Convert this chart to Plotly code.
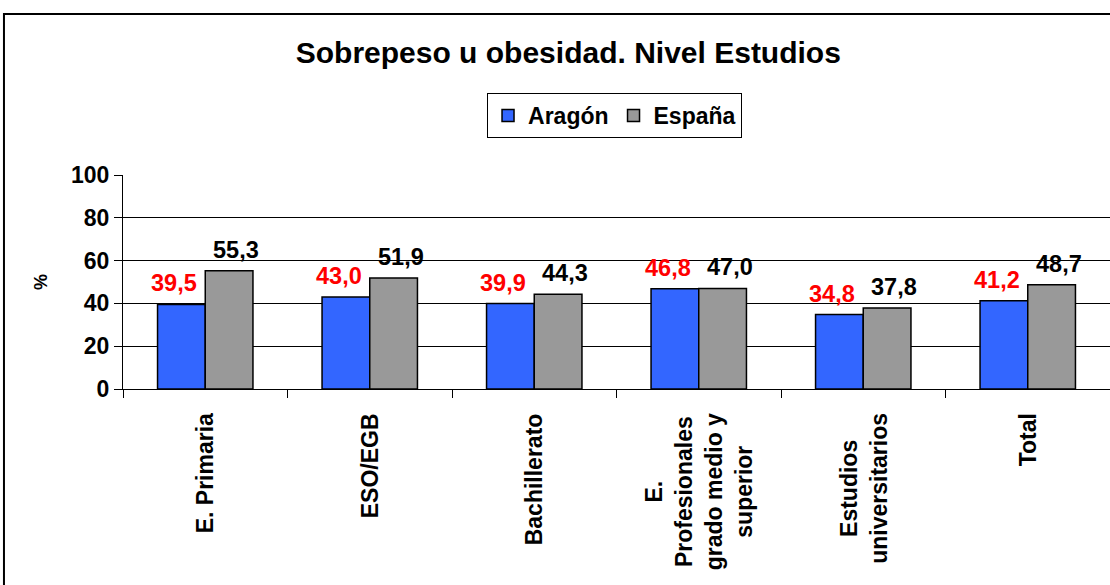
import plotly.graph_objects as go

categories = ["E. Primaria", "ESO/EGB", "Bachillerato",
              "E.<br>Profesionales<br>grado medio y<br>superior",
              "Estudios<br>universitarios", "Total"]
aragon = [39.5, 43.0, 39.9, 46.8, 34.8, 41.2]
espana = [55.3, 51.9, 44.3, 47.0, 37.8, 48.7]
y_ticks = [0, 20, 40, 60, 80, 100]

FONT = "Arial, Liberation Sans, sans-serif"


def fmt(v):
    return f"{v:.1f}".replace(".", ",")


fig = go.Figure()
fig.add_trace(go.Bar(
    name="Aragón", x=categories, y=aragon,
    marker=dict(color="#3366FF", line=dict(color="black", width=1.5)),
))
fig.add_trace(go.Bar(
    name="España", x=categories, y=espana,
    marker=dict(color="#999999", line=dict(color="black", width=1.5)),
))

annotations = []
for c in categories:
    annotations.append(dict(
        x=c, xref="x", y=-0.103, yref="paper", yanchor="top", xanchor="center",
        text=c, textangle=-90, align="center", showarrow=False,
        font=dict(family=FONT, size=23, color="black", weight="bold"),
    ))
for c, v in zip(categories, aragon):
    annotations.append(dict(
        x=c, xref="x", y=v, yref="y", xanchor="center", yanchor="bottom",
        xshift=-31, yshift=6, text=fmt(v), showarrow=False,
        font=dict(family=FONT, size=23.5, color="#FF0000", weight="bold"),
    ))
for c, v in zip(categories, espana):
    annotations.append(dict(
        x=c, xref="x", y=v, yref="y", xanchor="center", yanchor="bottom",
        xshift=31, yshift=6, text=fmt(v), showarrow=False,
        font=dict(family=FONT, size=23.5, color="black", weight="bold"),
    ))

fig.update_layout(
    width=1110, height=585,
    margin=dict(l=123, r=0, t=175, b=196),
    paper_bgcolor="white", plot_bgcolor="white",
    separators=",.",
    barmode="group", bargap=0.42, bargroupgap=0,
    title=dict(text="Sobrepeso u obesidad. Nivel Estudios",
               x=0.512, xref="container", xanchor="center",
               y=1 - 52 / 585, yref="container", yanchor="middle",
               font=dict(family=FONT, size=30, color="black", weight="bold")),
    legend=dict(orientation="h", x=0.498, xanchor="center", y=1.278, yanchor="middle",
                bordercolor="black", borderwidth=1, bgcolor="white",
                font=dict(family=FONT, size=23, color="black", weight="bold"),
                itemwidth=30, traceorder="normal"),
    xaxis=dict(type="category", showline=True, linecolor="black", linewidth=1,
               ticks="outside", tickson="boundaries", ticklen=8, tickcolor="black",
               showticklabels=False, showgrid=False),
    yaxis=dict(range=[0, 100], tickvals=y_ticks, showline=True, linecolor="black",
               linewidth=1, ticks="outside", ticklen=8, tickcolor="black",
               showgrid=True, gridcolor="black", gridwidth=1, zeroline=False,
               tickfont=dict(family=FONT, size=23, color="black", weight="bold"),
               title=dict(text="%", standoff=18,
                          font=dict(family=FONT, size=18, color="black", weight="bold"))),
    annotations=annotations,
    shapes=[dict(type="rect", xref="paper", yref="paper",
                 x0=-0.1206, x1=1.05, y0=-1.2, y1=1.752,
                 line=dict(color="black", width=2), fillcolor="rgba(0,0,0,0)",
                 layer="above")],
    showlegend=True,
)

fig.write_html("out.html", config={"displayModeBar": False},
               post_script="document.body.style.margin='0px';document.body.style.padding='0px';")
